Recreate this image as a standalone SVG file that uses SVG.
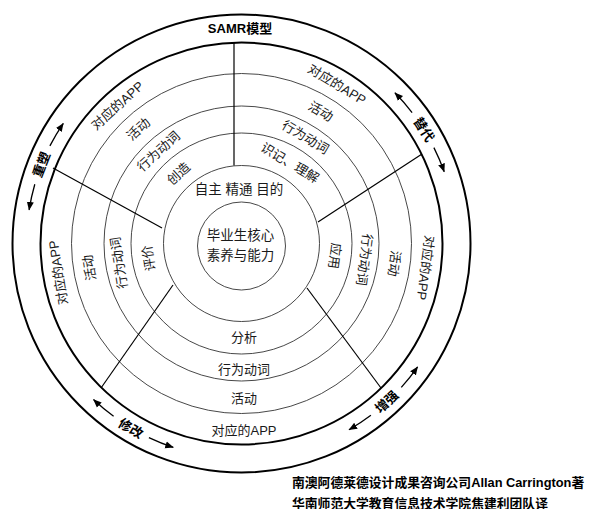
<svg xmlns="http://www.w3.org/2000/svg" width="590" height="509" viewBox="0 0 590 509">
<style>
.bg{fill:#ffffff}
.thick{fill:none;stroke:#000;stroke-width:2}
.thin{fill:none;stroke:#333;stroke-width:0.9}
.div{fill:none;stroke:#000;stroke-width:1.2}
.arr{fill:none;stroke:#000;stroke-width:1.3;marker-end:url(#ah)}
text{font-family:"Liberation Sans","Noto Sans CJK SC",sans-serif;fill:#1a1a1a;text-anchor:middle;dominant-baseline:central}
.t{font-size:13px}
.c{font-size:13.5px}
.b{font-size:13px;font-weight:bold;fill:#000}
.f{font-size:12.8px;font-weight:bold;fill:#000;text-anchor:start}
</style>
<defs>
<marker id="ah" markerWidth="9" markerHeight="8" refX="8" refY="4" orient="auto" markerUnits="userSpaceOnUse">
<path d="M0,0.5 L8.5,4 L0,7.5 Z" fill="#000"/>
</marker>
</defs>
<rect class="bg" x="0" y="0" width="590" height="509"/>
<g id="rings">
<circle class="thick" cx="241.5" cy="243.5" r="229"/>
<circle class="thick" cx="241.5" cy="243.5" r="201"/>
<circle class="thin" cx="241.5" cy="243.5" r="170"/>
<circle class="thin" cx="241.5" cy="243.5" r="137.5"/>
<circle class="thin" cx="241.5" cy="243.5" r="110.5"/>
<circle class="thin" cx="241.5" cy="243.5" r="78"/>
<circle class="thin" cx="241.5" cy="246" r="44"/>
</g>
<g id="dividers">
<line class="div" x1="234" y1="42.5" x2="234" y2="165.5"/>
<line class="div" x1="53" y1="168" x2="162" y2="228"/>
<line class="div" x1="422" y1="154" x2="318" y2="222"/>
<line class="div" x1="307" y1="288" x2="381" y2="388"/>
<line class="div" x1="173" y1="285" x2="101" y2="388"/>
</g>
<g id="title"><text class="b" x="240" y="28">SAMR模型</text></g>
<g id="core">
<text class="c" x="240.5" y="235">毕业生核心</text>
<text class="c" x="240.5" y="255">素养与能力</text>
</g>
<g id="motivation"><text class="c" x="239" y="189" xml:space="preserve">自主 精通 目的</text></g>
<g id="sector-substitution">
<text class="t" transform="translate(337,84.5) rotate(31)">对应的APP</text>
<text class="t" transform="translate(320.8,111.5) rotate(31)">活动</text>
<text class="t" transform="translate(305.4,137.2) rotate(31)">行为动词</text>
<text class="t" transform="translate(289.9,162.9) rotate(31)">识记、理解</text>
</g>
<g id="sector-augmentation">
<text class="t" transform="translate(425.4,267.7) rotate(97.5)">对应的APP</text>
<text class="t" transform="translate(394.2,263.6) rotate(97.5)">活动</text>
<text class="t" transform="translate(364.4,259.7) rotate(97.5)">行为动词</text>
<text class="t" transform="translate(334.7,255.8) rotate(97.5)">应用</text>
</g>
<g id="sector-modification">
<text class="t" x="244" y="337">分析</text>
<text class="t" x="244" y="369">行为动词</text>
<text class="t" x="244" y="398">活动</text>
<text class="t" x="244" y="430">对应的APP</text>
</g>
<g id="sector-redefinition-left">
<text class="t" transform="translate(58.3,272.5) rotate(-99)">对应的APP</text>
<text class="t" transform="translate(89.4,267.6) rotate(-99)">活动</text>
<text class="t" transform="translate(119,262.9) rotate(-99)">行为动词</text>
<text class="t" transform="translate(148.7,258.2) rotate(-99)">评价</text>
</g>
<g id="sector-redefinition-top">
<text class="t" transform="translate(117.4,105.7) rotate(-42)">对应的APP</text>
<text class="t" transform="translate(138.5,129.1) rotate(-42)">活动</text>
<text class="t" transform="translate(158.5,151.4) rotate(-42)">行为动词</text>
<text class="t" transform="translate(178.6,173.6) rotate(-42)">创造</text>
</g>
<g id="label-replace"><text class="b" transform="translate(423.8,129.6) rotate(58)">替代</text></g>
<g id="label-enhance"><text class="b" transform="translate(386.8,402) rotate(-42.5)">增强</text></g>
<g id="label-modify"><text class="b" transform="translate(130.8,428.5) rotate(31)">修改</text></g>
<g id="label-reshape"><text class="b" transform="translate(41.5,164.7) rotate(-68.5)">重塑</text></g>
<g id="connectors">
<path class="arr" d="M412.1,112.6 A215,215 0 0 0 394.9,92.8"/>
<path class="arr" d="M433.9,147.6 A215,215 0 0 1 444.2,171.7"/>
<path class="arr" d="M370.9,415.2 A215,215 0 0 1 349,429.7"/>
<path class="arr" d="M401.3,387.4 A215,215 0 0 0 417.6,366.8"/>
<path class="arr" d="M113.6,416.3 A215,215 0 0 1 93.5,399.5"/>
<path class="arr" d="M148.9,437.6 A215,215 0 0 0 173.3,447.4"/>
<path class="arr" d="M49.9,145.9 A215,215 0 0 1 63.3,123.3"/>
<path class="arr" d="M34.8,184.2 A215,215 0 0 0 29.1,209.9"/>
</g>
<g id="credits">
<text class="f" x="292" y="482.5">南澳阿德莱德设计成果咨询公司Allan Carrington著</text>
<text class="f" x="292" y="503">华南师范大学教育信息技术学院焦建利团队译</text>
</g>
</svg>
